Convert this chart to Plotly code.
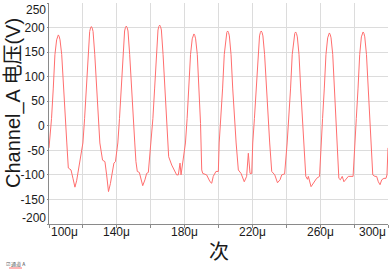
import plotly.graph_objects as go

# time in microseconds, voltage in V
time_us = [
    100.0, 101.5, 102.5, 103.5, 104.5, 105.0, 105.5, 106.0, 106.5, 107.5, 108.5, 109.5, 110.5,
    111.4, 113.0, 114.2, 115.3, 116.3, 117.3, 117.9,
    120.0, 121.0, 122.0, 123.0, 124.0, 124.5, 125.0, 125.5, 126.0, 127.0, 128.0, 129.0, 130.0,
    131.6, 133.0, 134.0, 135.1, 136.2, 137.2, 138.3, 139.2,
    140.6, 141.6, 142.6, 143.6, 144.6, 145.1, 145.6, 146.1, 146.6, 147.6, 148.6, 149.6, 150.6,
    151.3, 152.1, 153.3, 154.3, 155.3, 156.6, 157.6, 158.6,
    160.3, 161.3, 162.3, 163.3, 164.3, 164.8, 165.3, 165.8, 166.3, 167.3, 168.3, 169.3, 170.0,
    170.6, 172.4, 174.3, 175.3, 176.3, 177.3, 177.9,
    180.5, 181.5, 182.5, 183.5, 184.5, 185.0, 185.5, 186.0, 186.5, 187.5, 188.5, 189.4,
    190.1, 190.7, 193.0, 195.0, 196.0, 196.9, 198.5, 199.9,
    200.4, 201.4, 202.4, 203.4, 204.4, 204.9, 205.4, 205.9, 206.4, 207.4, 208.4, 209.4, 210.4,
    211.7, 213.3, 215.2, 216.6, 217.6, 218.6, 219.6,
    220.2, 221.2, 222.2, 223.2, 224.2, 224.7, 225.2, 225.7, 226.2, 227.2, 228.2, 229.2, 230.2,
    231.4, 233.2, 234.8, 236.3, 237.3, 239.0,
    240.5, 241.5, 242.5, 243.5, 244.5, 245.0, 245.5, 246.0, 246.5, 247.5, 248.5, 249.5, 250.5,
    251.5, 252.5, 253.0, 254.6, 255.9, 257.9, 259.6,
    260.4, 261.4, 262.4, 263.4, 264.4, 264.9, 265.4, 265.9, 266.4, 267.4, 268.4, 269.4, 270.2,
    271.0, 271.9, 273.0, 274.0, 275.4, 276.6, 279.4,
    280.3, 281.3, 282.3, 283.3, 284.3, 284.8, 285.3, 285.8, 286.3, 287.3, 288.3, 289.3, 290.2,
    291.0, 292.3, 293.3, 294.3, 295.3, 296.3, 297.6, 298.8, 299.4, 300.0,
]
voltage_v = [
    -45, 15, 75, 145, 175, 182, 185, 182, 175, 145, 75, 15, -35,
    -86, -90, -108, -125, -112, -90, -73,
    -35, 15, 75, 145, 192, 199, 202, 199, 192, 145, 75, 15, -35,
    -70, -73, -100, -134, -118, -100, -76, -73,
    -35, 15, 75, 145, 193, 200, 203, 200, 193, 145, 75, 15, -35,
    -73, -93, -95, -108, -122, -110, -97, -95,
    -35, 15, 75, 145, 195, 202, 205, 202, 195, 145, 75, 15, -30,
    -63, -80, -93, -100, -100, -76, -100,
    -35, 15, 75, 145, 177, 184, 187, 184, 177, 145, 75, 5,
    -90, -97, -100, -114, -117, -103, -93, -93,
    -35, 15, 75, 145, 183, 190, 193, 190, 183, 145, 75, 15, -35,
    -90, -97, -114, -103, -56, -97, -97,
    -35, 15, 75, 145, 183, 190, 193, 190, 183, 145, 75, 15, -35,
    -93, -100, -116, -110, -100, -98,
    -35, 15, 75, 145, 181, 188, 191, 188, 181, 145, 75, 15, -35,
    -103, -109, -103, -124, -117, -107, -103,
    -35, 15, 75, 145, 179, 186, 189, 186, 179, 145, 75, 15, -35,
    -107, -110, -103, -114, -108, -103, -103,
    -35, 15, 75, 145, 181, 188, 191, 188, 181, 145, 75, 15, -35,
    -100, -103, -103, -114, -120, -110, -107, -107, -100, -45,
]

x_tick_vals = [100, 120, 140, 160, 180, 200, 220, 240, 260, 280, 300]
x_label_vals = [100, 140, 180, 220, 260, 300]
x_label_text = ["100μ", "140μ", "180μ", "220μ", "260μ", "300μ"]
y_tick_vals = [-200, -150, -100, -50, 0, 50, 100, 150, 200, 250]
y_tick_text = ["", "-150", "-100", "-50", "0", "50", "100", "150", "200", ""]
y_end_labels = {-200: "-200", 250: "250"}

L, R, T, B = 49, 3, 3, 47
W, H = 391, 271
pw, ph = W - L - R, H - T - B

def px_x(px):
    return (px - L) / pw

def px_y(py):
    return (H - B - py) / ph

fig = go.Figure()
fig.add_trace(go.Scatter(
    x=time_us, y=voltage_v, mode="lines",
    line=dict(color="rgb(255,110,110)", width=1),
    name="通道 A", showlegend=False, hoverinfo="skip",
))

font_color = "#1a1a1a"
axis_font = dict(family="Liberation Sans, Arial, sans-serif", size=12, color=font_color)

fig.update_layout(
    width=W, height=H,
    margin=dict(l=L, r=R, t=T, b=B, autoexpand=False),
    paper_bgcolor="white", plot_bgcolor="white",
    xaxis=dict(
        range=[100, 300], tickvals=x_tick_vals, showticklabels=False,
        showgrid=True, gridcolor="#dcdcdc", gridwidth=1,
        showline=True, linecolor="#8a8a8a", linewidth=1,
        ticks="outside", ticklen=3, tickcolor="#8a8a8a",
        zeroline=False, automargin=False,
    ),
    yaxis=dict(
        range=[-200, 250], tickvals=y_tick_vals, ticktext=y_tick_text,
        showgrid=True, gridcolor="#dcdcdc", gridwidth=1,
        showline=True, linecolor="#8a8a8a", linewidth=1,
        ticks="outside", ticklen=1, tickcolor="#8a8a8a",
        tickfont=axis_font, zeroline=False, automargin=False,
    ),
)

# x tick labels (end ones pulled inward as in the reference)
for v, t in zip(x_label_vals, x_label_text):
    anchor = "left" if v == x_label_vals[0] else ("right" if v == x_label_vals[-1] else "center")
    fig.add_annotation(text=t, xref="x", yref="paper", x=v, y=px_y(232),
                       xanchor=anchor, yanchor="middle", showarrow=False, font=axis_font)

# y end labels, pulled inward
fig.add_annotation(text=y_end_labels[-200], xref="paper", yref="paper", x=px_x(47.5), y=px_y(218),
                   xanchor="right", yanchor="middle", showarrow=False, font=axis_font)
fig.add_annotation(text=y_end_labels[250], xref="paper", yref="paper", x=px_x(47.5), y=px_y(10),
                   xanchor="right", yanchor="middle", showarrow=False, font=axis_font)

# axis titles
fig.add_annotation(text="Channel_A 电压(V)", xref="paper", yref="paper",
                   x=px_x(14), y=px_y(103), textangle=-90,
                   xanchor="center", yanchor="middle", showarrow=False,
                   font=dict(family="Liberation Sans, Noto Sans CJK SC, sans-serif", size=20, color=font_color))
fig.add_annotation(text="次", xref="paper", yref="paper", x=px_x(219), y=px_y(250),
                   xanchor="center", yanchor="middle", showarrow=False,
                   font=dict(family="Noto Sans CJK SC", size=20, color=font_color))

# small legend at bottom-left
fig.add_annotation(text="☑ 通道 A", xref="paper", yref="paper", x=px_x(4), y=px_y(264),
                   xanchor="left", yanchor="middle", showarrow=False,
                   font=dict(family="Noto Sans CJK SC", size=5, color="#555"))
fig.add_shape(type="line", xref="paper", yref="paper",
              x0=px_x(9), x1=px_x(22), y0=px_y(268), y1=px_y(268),
              line=dict(color="rgb(255,110,110)", width=1))

fig.write_html("out.html", config={"displayModeBar": False},
               post_script="document.body.style.margin='0';document.body.style.padding='0';")
